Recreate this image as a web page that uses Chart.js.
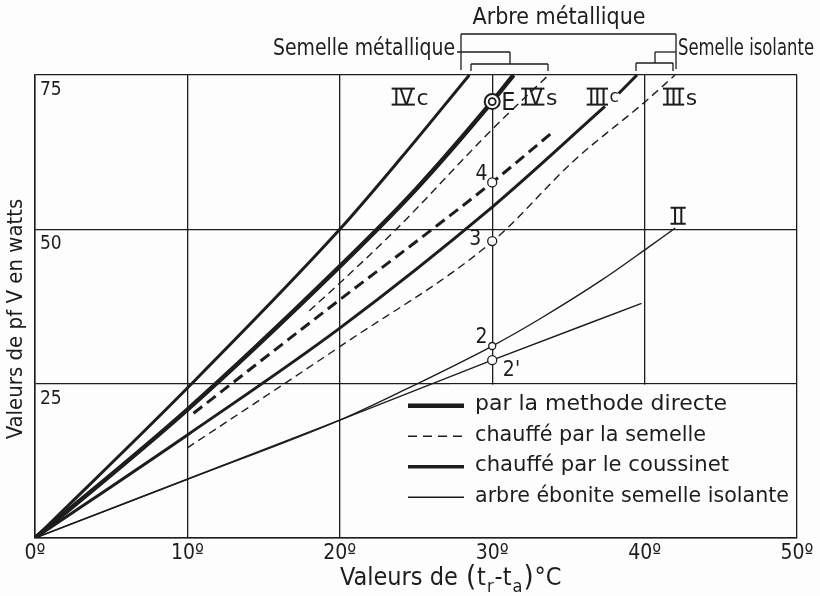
<!DOCTYPE html>
<html>
<head>
<meta charset="utf-8" />
<title>Valeurs de pf V en watts</title>
<script src="https://cdn.jsdelivr.net/npm/chart.js"></script>
<style>
  body { margin: 0; background: #fdfdfd; }
</style>
</head>
<body>
<canvas id="chart" width="820" height="596"></canvas>
<script>
// abscisses : (t_r - t_a) en °C, ordonnées : p f V en watts
const ivcT = [0, 10, 20, 24, 28.5];
const ivcW = [0, 24.3, 50, 61.5, 75];
const directeT = [0, 10, 20, 25, 30, 31.4];
const directeW = [0, 20.8, 44, 56.5, 70.7, 75];
const ivsT = [18, 20, 23.7, 30, 33.7];
const ivsW = [36.8, 41.3, 50, 66.2, 75];
const semelleT = [10.4, 20, 25.8, 30, 33.9];
const semelleW = [20.2, 38.6, 49.5, 57.6, 65.6];
const iiicT = [0, 10, 20, 30, 37.4];
const iiicW = [0, 16.7, 34, 53.6, 69.9];
const iiicSuiteT = [38.3, 39.5];
const iiicSuiteW = [72, 75];
const iiisT = [10, 20, 30, 35.4, 40, 42];
const iiisW = [14.6, 31, 48, 61.2, 70.6, 75];
const iiT = [0, 10, 20, 24, 30, 33.2, 37.2, 40.2, 42];
const iiW = [0, 9.5, 19.1, 23.7, 31.1, 35.6, 41.8, 47, 50.2];
const eboniteT = [0, 20, 30, 39.8];
const eboniteW = [0, 19.1, 28.8, 38];
const pointT = [30, 30, 30, 30];
const pointW = [57.6, 48.1, 31.1, 28.8];
const pointE = { t: 30, w: 70.7 };
const xTicks = [0, 10, 20, 30, 40, 50];
const yTicks = [0, 25, 50, 75];

const legendLabels = ['par la methode directe', 'chauffé par la semelle', 'chauffé par le coussinet', 'arbre ébonite semelle isolante'];

const ink = '#1d1d1d';
const pts = (ts, ws) => ts.map((t, i) => ({ x: t, y: ws[i] }));

function curve(ts, ws, width, dash) {
    return {
        data: pts(ts, ws),
        showLine: true,
        borderColor: ink,
        borderWidth: width,
        borderDash: dash || [],
        borderCapStyle: 'butt',
        pointRadius: 0,
        cubicInterpolationMode: 'monotone'
    };
}

// repères des courbes, en coordonnées du graphique
const romanLabels = [
    { num: 'IV', suf: 'c', t: 23.5, w: 71.5, small: false },
    { num: 'IV', suf: 's', t: 32.0, w: 71.5, small: false },
    { num: 'III', suf: 'c', t: 36.3, w: 71.5, small: true },
    { num: 'III', suf: 's', t: 41.3, w: 71.5, small: false },
    { num: 'II', suf: '', t: 41.8, w: 52.2, small: false }
];
const plainLabels = [
    { text: 'E', t: 30.6, w: 70.4, size: 25 },
    { text: '4', t: 28.9, w: 58.8, size: 21 },
    { text: '3', t: 28.5, w: 48.3, size: 21 },
    { text: '2', t: 28.9, w: 32.4, size: 21 },
    { text: "2'", t: 30.7, w: 27.2, size: 21 }
];

function roman(ctx, num, suf, x, y, small) {
    ctx.font = '23px "DejaVu Sans Condensed"';
    ctx.textAlign = 'left';
    ctx.textBaseline = 'alphabetic';
    const w = ctx.measureText(num).width;
    const cap = 17;
    const base = y + cap / 2;
    ctx.fillText(num, x, base);
    ctx.fillRect(x - 1.5, base - cap - 0.5, w + 3, 2);
    ctx.fillRect(x - 1.5, base - 1.5, w + 3, 2);
    if (suf) {
        ctx.font = (small ? '17px' : '22px') + ' "DejaVu Sans"';
        ctx.fillText(suf, x + w + 3, small ? base - 3 : base);
    }
}

function line(ctx, x1, y1, x2, y2) {
    ctx.beginPath();
    ctx.moveTo(x1, y1);
    ctx.lineTo(x2, y2);
    ctx.stroke();
}

const decor = {
    id: 'decor',
    beforeDraw(chart) {
        const ctx = chart.ctx;
        ctx.save();
        ctx.fillStyle = '#fdfdfd';
        ctx.fillRect(0, 0, chart.width, chart.height);
        ctx.restore();
    },
    beforeDatasetsDraw(chart) {
        // cadre de la légende : masque les verticales de 30º et 40º
        const { ctx, chartArea, scales } = chart;
        const x0 = scales.x.getPixelForValue(27.2);
        const y0 = scales.y.getPixelForValue(25);
        ctx.save();
        ctx.fillStyle = '#fdfdfd';
        ctx.fillRect(x0, y0 + 1, chartArea.right - x0 - 1, chartArea.bottom - y0 - 2);
        ctx.restore();
    },
    afterDatasetsDraw(chart) {
        const { ctx, chartArea, scales } = chart;
        const X = v => scales.x.getPixelForValue(v);
        const Y = v => scales.y.getPixelForValue(v);
        ctx.save();
        ctx.fillStyle = ink;
        ctx.strokeStyle = ink;

        romanLabels.forEach(l => roman(ctx, l.num, l.suf, X(l.t), Y(l.w), l.small));
        plainLabels.forEach(l => {
            ctx.font = l.size + 'px "DejaVu Sans Condensed"';
            ctx.textAlign = 'left';
            ctx.textBaseline = 'middle';
            ctx.fillText(l.text, X(l.t), Y(l.w));
        });

        // légende
        const ly = Y(25);
        const styles = [
            { w: 4.5, dash: [] },
            { w: 1.5, dash: [9, 6] },
            { w: 3.5, dash: [] },
            { w: 1.5, dash: [] }
        ];
        const widths = [254, 231, 254, 314];
        legendLabels.forEach((txt, i) => {
            const y = ly + 22 + i * 30.5;
            ctx.lineWidth = styles[i].w;
            ctx.setLineDash(styles[i].dash);
            line(ctx, 408, y, 464, y);
            ctx.setLineDash([]);
            ctx.font = '22px "DejaVu Sans"';
            ctx.textAlign = 'left';
            ctx.textBaseline = 'middle';
            ctx.fillText(txt, 475, y - 1, widths[i]);
        });

        // accolades du haut
        ctx.lineWidth = 1.3;
        line(ctx, 461, 34, 676, 34);
        line(ctx, 461, 34, 461, 70);
        line(ctx, 676, 34, 676, 69);
        line(ctx, 457, 52, 510, 52);
        line(ctx, 510, 52, 510, 64);
        line(ctx, 471, 64, 548, 64);
        line(ctx, 471, 64, 471, 71);
        line(ctx, 548, 64, 548, 71);
        line(ctx, 636, 63, 673, 63);
        line(ctx, 636, 63, 636, 71);
        line(ctx, 673, 63, 673, 71);
        line(ctx, 655, 52, 655, 63);
        line(ctx, 655, 52, 676, 52);

        ctx.font = '23px "DejaVu Sans Condensed"';
        ctx.textBaseline = 'middle';
        ctx.textAlign = 'center';
        ctx.fillText('Arbre métallique', 559, 18, 180);
        ctx.textAlign = 'right';
        ctx.fillText('Semelle métallique', 455, 49, 182);
        ctx.textAlign = 'left';
        ctx.fillText('Semelle isolante', 678, 49, 136);

        // titres des axes
        ctx.save();
        ctx.translate(16, 319);
        ctx.rotate(-Math.PI / 2);
        ctx.textAlign = 'center';
        ctx.font = '22px "DejaVu Sans Condensed"';
        ctx.fillText('Valeurs de pf V en watts', 0, 0, 264);
        ctx.restore();

        let x = 340;
        const by = 585;
        ctx.textAlign = 'left';
        ctx.textBaseline = 'alphabetic';
        const parts = [
            ['Valeurs de ', '25px', 0],
            ['(', '29px', 1],
            ['t', '25px', 0],
            ['r', '18px', 7],
            ['-t', '25px', 0],
            ['a', '18px', 7],
            [')', '29px', 1],
            ['°C', '25px', 0]
        ];
        parts.forEach(p => {
            ctx.font = p[1] + ' "DejaVu Sans Condensed"';
            ctx.fillText(p[0], x, by + p[2]);
            x += ctx.measureText(p[0]).width + 1;
        });
        ctx.restore();
    }
};

const datasets = [
    { data: [{ x: pointE.t, y: pointE.w }], pointRadius: 3.5, pointBorderWidth: 1.8, pointBackgroundColor: '#fdfdfd', pointBorderColor: ink },
    { data: [{ x: pointE.t, y: pointE.w }], pointRadius: 7.5, pointBorderWidth: 2, pointBackgroundColor: '#fdfdfd', pointBorderColor: ink },
    { data: pts(pointT, pointW), pointRadius: [4.5, 4.5, 3.5, 4.5], pointBorderWidth: 1.3, pointBackgroundColor: '#fdfdfd', pointBorderColor: ink },
    curve(ivcT, ivcW, 3),
    curve(directeT, directeW, 4.5),
    curve(ivsT, ivsW, 1.4, [8, 5]),
    curve(semelleT, semelleW, 3, [11, 6]),
    curve(iiicT, iiicW, 3),
    curve(iiicSuiteT, iiicSuiteW, 3),
    curve(iiisT, iiisW, 1.4, [8, 5]),
    curve(iiT, iiW, 1.4),
    curve(eboniteT, eboniteW, 1.4)
];

const chart = new Chart(document.getElementById('chart').getContext('2d'), {
    type: 'scatter',
    data: { datasets: datasets },
    options: {
        responsive: false,
        animation: false,
        layout: { padding: { top: 75, right: 23, left: 0, bottom: 0 } },
        plugins: { legend: { display: false }, tooltip: { enabled: false } },
        scales: {
            x: {
                type: 'linear', min: 0, max: 50,
                afterFit: s => { s.height = 58; },
                afterBuildTicks: s => { s.ticks = xTicks.map(v => ({ value: v })); },
                grid: { color: ink, lineWidth: 1.3, drawTicks: false },
                border: { color: ink, width: 1.5 },
                ticks: {
                    color: ink, padding: 3, maxRotation: 0, autoSkip: false,
                    font: { family: 'DejaVu Sans Condensed', size: 21 },
                    callback: v => v + 'º'
                }
            },
            y: {
                type: 'linear', min: 0, max: 75,
                afterFit: s => { s.width = 35; },
                afterBuildTicks: s => { s.ticks = yTicks.map(v => ({ value: v })); },
                grid: { color: ink, lineWidth: 1.3, drawTicks: false },
                border: { color: ink, width: 1.5 },
                ticks: {
                    color: ink, mirror: true, padding: 5, labelOffset: 15,
                    font: { family: 'DejaVu Sans Condensed', size: 19 },
                    callback: v => (v === 0 ? '' : v)
                }
            }
        }
    },
    plugins: [decor]
});
</script>
</body>
</html>
